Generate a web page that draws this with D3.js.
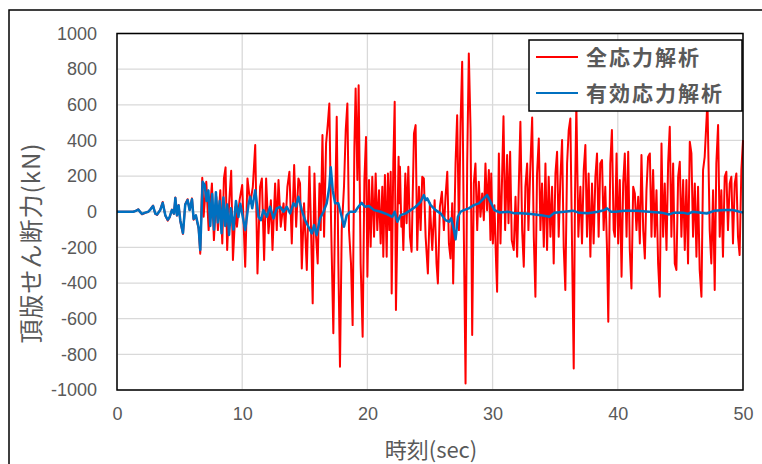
<!DOCTYPE html>
<html>
<head>
<meta charset="utf-8">
<script src="https://cdn.jsdelivr.net/npm/d3@7"></script>
<style>
  body { margin: 0; background: #fff; }
  svg { display: block; }
  .tick text { font-family: "Liberation Sans", Arial, sans-serif; font-size: 18px; fill: #595959; }
  .jp { font-family: "Noto Sans CJK JP", sans-serif; fill: #595959; }
</style>
</head>
<body>
<div id="chart"></div>
<script>

  // time (sec), shear force (kN)
  var totalStress = [
    [0,0],[1.3,0],[1.5,5],[1.7,14],[1.9,-6],[2.0,-14],[2.26,-6],[2.5,0],[2.66,14],[2.88,35],
    [3.06,-12],[3.2,-18],[3.46,12],[3.65,55],[3.86,-22],[4.05,-50],[4.2,-32],[4.39,12],[4.55,-12],
    [4.66,80],[4.79,-22],[4.92,38],[5.06,-55],[5.27,-125],[5.45,42],[5.64,70],[5.8,10],[5.99,75],
    [6.12,-45],[6.3,-22],[6.52,-95],[6.65,-235],
    [6.81,191],[6.92,-28],[7.13,168],[7.32,-103],[7.58,159],[7.74,-159],[7.93,84],[8.06,-103],
    [8.25,121],[8.41,-178],[8.54,187],[8.67,249],[8.8,-215],[8.95,40],[9.12,230],[9.26,-271],
    [9.47,28],[9.58,-84],[9.79,65],[10.0,150],
    [10.24,-308],[10.42,187],[10.64,47],[10.85,140],[11.04,374],[11.22,-346],[11.43,140],[11.57,187],
    [11.75,-271],[11.91,187],[12.1,-121],[12.29,65],[12.42,-215],[12.63,159],[12.76,-103],[12.9,178],
    [13.08,-84],[13.3,47],[13.43,-103],[13.61,140],[13.77,224],[13.96,-178],[14.15,262],[14.31,-84],
    [14.49,187],[14.62,159],[14.76,-318],[14.94,47],[15.16,-327],[15.37,252],[15.5,-103],[15.63,-514],
    [15.77,215],[15.9,-140],[16.03,-290],[16.17,159],[16.27,-103],[16.41,430],[16.54,-140],[16.7,383],
    [16.83,486],[16.96,607],[17.1,-65],[17.28,-682],[17.42,9],[17.55,533],[17.68,-290],[17.81,-869],
    [17.95,-103],[18.13,140],[18.27,458],[18.4,607],[18.53,-103],[18.69,-290],[18.82,-636],[18.96,364],
    [19.06,692],[19.2,178],[19.3,710],[19.46,-290],[19.62,-701],[19.76,178],[19.89,420],
    [20.0,-364],[20.13,178],[20.26,-196],[20.39,196],[20.53,-140],[20.66,215],[20.79,-103],[20.93,121],
    [21.06,-178],[21.19,140],[21.27,-252],[21.4,206],[21.54,-252],[21.64,215],[21.75,-103],[21.86,224],
    [21.94,-458],[22.07,271],[22.18,617],[22.28,-551],[22.39,-103],[22.49,308],[22.55,47],[22.6,252],
    [22.71,-84],[22.79,-28],[22.87,-215],[23.03,215],[23.13,-65],[23.27,252],[23.4,-140],[23.53,-224],
    [23.72,439],[23.85,486],[23.98,-215],[24.12,140],[24.25,-103],[24.38,196],[24.51,187],[24.65,-140],
    [24.83,-346],[24.99,47],[25.18,-215],[25.37,65],[25.52,-290],[25.63,-402],[25.79,28],[25.95,112],
    [26.11,-103],[26.24,84],[26.38,224],[26.51,-178],[26.64,-262],[26.77,47],[26.85,-402],[27.04,271],
    [27.17,542],[27.31,-103],[27.44,495],[27.57,841],[27.7,-103],[27.84,-963],[27.97,271],[28.1,888],
    [28.24,458],[28.37,-692],[28.5,159],[28.63,271],[28.77,-103],[28.9,168],[29.03,-28],[29.17,103],
    [29.3,-47],[29.43,271],[29.56,9],[29.7,234],[29.83,-159],
    [29.89,215],[30.02,-178],[30.15,37],[30.28,-290],[30.36,-449],[30.5,327],[30.63,-178],[30.74,140],
    [30.87,536],[31.0,-103],[31.16,318],[31.27,-65],[31.4,336],[31.53,-159],[31.69,-215],[31.83,84],
    [31.96,-252],[32.09,140],[32.22,505],[32.36,-103],[32.49,-308],[32.62,140],[32.76,271],[32.86,-103],
    [33.0,224],[33.16,529],[33.29,-140],[33.42,-477],[33.55,215],[33.69,411],[33.82,-103],[33.95,159],
    [34.09,-196],[34.22,271],[34.35,-215],[34.48,196],[34.62,-140],[34.75,140],[34.88,-290],[35.02,215],
    [35.15,336],[35.28,-140],[35.41,178],[35.55,402],[35.68,-196],[35.81,-439],[35.95,271],[36.08,458],
    [36.21,523],[36.35,-215],[36.48,-879],[36.58,84],[36.69,600],[36.85,-140],[37.01,140],[37.14,-178],
    [37.28,234],[37.41,374],[37.54,-140],[37.67,215],[37.81,-252],[37.94,159],[38.07,-178],[38.21,196],
    [38.34,327],[38.47,-140],[38.6,271],[38.74,290],[38.87,-103],[39.0,140],[39.14,-215],[39.24,-617],
    [39.4,271],[39.53,458],[39.67,-103],
    [39.77,-140],[39.9,327],[40.03,-178],[40.16,178],[40.3,-364],[40.43,159],[40.56,327],[40.7,-140],
    [40.83,336],[40.96,-215],[41.09,-430],[41.23,140],[41.36,103],[41.49,-103],[41.63,84],[41.76,-178],
    [41.89,318],[42.03,-103],[42.16,-262],[42.29,121],[42.42,308],[42.56,327],[42.69,-140],[42.82,234],
    [42.96,-140],[43.09,121],[43.22,-290],[43.35,-477],[43.49,383],[43.62,-140],[43.75,159],[43.89,-215],
    [44.02,271],[44.15,477],[44.28,-140],[44.42,271],[44.55,-290],[44.68,-327],[44.82,196],[44.95,280],
    [45.08,-140],[45.22,178],[45.35,-215],[45.48,178],[45.61,-290],[45.75,393],[45.88,327],[46.01,-140],
    [46.15,159],[46.28,-252],[46.41,140],[46.54,-327],[46.68,-477],[46.81,234],[46.94,308],[47.16,620],
    [47.34,-103],[47.47,-290],[47.61,121],[47.74,-439],[47.87,271],[48.01,486],[48.14,-140],[48.27,121],
    [48.4,-252],[48.54,196],[48.67,224],[48.8,-103],[48.94,159],[49.07,196],[49.2,-178],[49.34,159],
    [49.47,215],[49.6,-140],[49.73,-243],[49.87,234],[50.0,402]
  ];

  var effectiveStress = [
    [0,0],[1.3,0],[1.5,5],[1.7,12],[1.9,-5],[2.0,-12],[2.26,-5],[2.5,0],[2.66,12],[2.88,32],
    [3.06,-10],[3.2,-15],[3.46,10],[3.65,50],[3.86,-20],[4.05,-45],[4.2,-30],[4.39,10],[4.55,-10],
    [4.66,77],[4.79,-20],[4.92,35],[5.06,-50],[5.27,-120],[5.45,40],[5.64,65],[5.8,10],[5.99,70],
    [6.12,-40],[6.3,-20],[6.52,-90],[6.65,-215],[6.84,168],
    [7.0,150],[7.15,60],[7.3,120],[7.45,-80],[7.6,100],[7.75,-100],[7.9,110],[8.05,-60],[8.2,60],
    [8.35,-120],[8.5,80],[8.65,-80],[8.8,40],[8.95,-130],[9.1,20],[9.3,-100],[9.5,60],[9.7,-30],
    [9.85,45],[10.24,-103],[10.5,40],[10.64,84],[10.8,20],[11.04,121],[11.3,-28],[11.49,-47],
    [11.7,9],[11.97,-28],[12.23,28],[12.5,-37],[12.76,19],[13.03,28],[13.3,0],[13.56,28],[13.83,-9],
    [14.09,47],[14.3,30],[14.49,84],[14.76,9],[15.02,-47],[15.29,-84],[15.56,-121],[15.74,-75],
    [15.95,-131],[16.22,-37],[16.49,0],[16.75,47],[16.96,140],[17.07,250],[17.23,121],[17.42,47],
    [17.68,47],[17.95,-28],[18.13,-84],[18.35,-19],[18.61,0],[19.01,0],[19.28,28],[19.54,50],
    [19.81,28],[20.13,32],[20.53,9],[21.06,0],[21.59,-15],[21.99,-28],[22.18,0],[22.39,-56],
    [22.65,-19],[23.05,-9],[23.45,9],[23.85,28],[24.25,56],[24.51,93],[24.65,65],[24.78,75],
    [25.05,37],[25.45,9],[25.84,-9],[26.24,-47],[26.51,-56],[26.69,-37],[26.91,-103],[27.04,-155],
    [27.23,-28],[27.44,0],[27.7,9],[28.1,19],[28.5,37],[28.9,47],[29.3,75],[29.56,93],[29.89,47],
    [30.15,9],[30.55,-4],[31.22,0],[31.75,-9],[32.28,-9],[33.08,-13],[33.87,-19],[34.54,-28],
    [34.94,-6],[35.73,0],[36.4,6],[36.93,-6],[37.6,-9],[38.39,0],[38.92,9],[39.14,19],[39.46,0],
    [39.83,0],[40.5,5],[41.5,5],[42.5,0],[43.5,-5],[44.1,-15],[44.5,-5],[45.2,-5],[45.6,-12],
    [46.0,0],[47.1,-10],[47.7,5],[48.5,10],[49.2,10],[50.0,-5]
  ];

  var seriesNames = ["全応力解析", "有効応力解析"];
  var seriesColors = ["#ff0000", "#0070c0"];
  var xTicks = [0, 10, 20, 30, 40, 50];
  var yTicks = [-1000, -800, -600, -400, -200, 0, 200, 400, 600, 800, 1000];

  var W = 762, H = 464;
  var margin = {top: 33.5, right: 19, bottom: 74, left: 117},
      width = W - margin.left - margin.right,
      height = H - margin.top - margin.bottom;

  var svg = d3.select("#chart").append("svg")
      .attr("width", W)
      .attr("height", H);

  // outer chart frame
  svg.append("rect")
      .attr("x", 9).attr("y", 10)
      .attr("width", 800).attr("height", 500)
      .attr("fill", "none")
      .attr("stroke", "#000")
      .attr("stroke-width", 1.5);

  var g = svg.append("g")
      .attr("transform", "translate(" + margin.left + "," + margin.top + ")");

  var x = d3.scaleLinear().domain([0, 50]).range([0, width]);
  var y = d3.scaleLinear().domain([-1000, 1000]).range([height, 0]);

  // grid
  g.append("g").selectAll("line")
      .data(yTicks)
    .enter().append("line")
      .attr("x1", 0).attr("x2", width)
      .attr("y1", d => y(d)).attr("y2", d => y(d))
      .attr("stroke", "#d9d9d9").attr("stroke-width", 1.3);

  g.append("g").selectAll("line")
      .data(xTicks)
    .enter().append("line")
      .attr("y1", 0).attr("y2", height)
      .attr("x1", d => x(d)).attr("x2", d => x(d))
      .attr("stroke", "#d9d9d9").attr("stroke-width", 1.3);

  // axes (labels only)
  var yAxis = g.append("g")
      .call(d3.axisLeft(y).tickValues(yTicks).tickFormat(d => String(d))
        .tickSize(0).tickPadding(20));
  var xAxis = g.append("g")
      .attr("transform", "translate(0," + height + ")")
      .call(d3.axisBottom(x).tickValues(xTicks).tickFormat(d => String(d))
        .tickSize(0).tickPadding(17));
  yAxis.select(".domain").remove();
  xAxis.select(".domain").remove();

  var line = d3.line()
      .x(d => x(d[0]))
      .y(d => y(d[1]));

  g.append("path")
      .datum(totalStress)
      .attr("fill", "none")
      .attr("stroke", seriesColors[0])
      .attr("stroke-width", 2)
      .attr("stroke-linejoin", "round")
      .attr("d", line);

  g.append("path")
      .datum(effectiveStress)
      .attr("fill", "none")
      .attr("stroke", seriesColors[1])
      .attr("stroke-width", 2.5)
      .attr("stroke-linejoin", "round")
      .attr("d", line);

  // plot frame
  g.append("rect")
      .attr("width", width).attr("height", height)
      .attr("fill", "none")
      .attr("stroke", "#000")
      .attr("stroke-width", 1.5);

  // axis titles
  svg.append("text")
      .attr("class", "jp")
      .attr("x", 431).attr("y", 458)
      .attr("text-anchor", "middle")
      .attr("font-size", 22)
      .text("時刻(sec)");

  svg.append("text")
      .attr("class", "jp")
      .attr("transform", "translate(40,243) rotate(-90)")
      .attr("text-anchor", "middle")
      .attr("font-size", 24)
      .attr("letter-spacing", 1)
      .text("頂版せん断力(kN)");

  // legend
  var lg = svg.append("g").attr("transform", "translate(529,40)");
  lg.append("rect")
      .attr("width", 213).attr("height", 71)
      .attr("fill", "#fff")
      .attr("stroke", "#000")
      .attr("stroke-width", 1.5);

  var item = lg.selectAll(".item")
      .data(seriesNames)
    .enter().append("g")
      .attr("transform", (d, i) => "translate(0," + (17 + i * 36) + ")");
  item.append("line")
      .attr("x1", 7).attr("x2", 49)
      .attr("stroke", (d, i) => seriesColors[i])
      .attr("stroke-width", 2);
  item.append("text")
      .attr("class", "jp")
      .attr("x", 57).attr("y", 8)
      .attr("font-size", 21)
      .attr("font-weight", "bold")
      .attr("letter-spacing", 2)
      .text(d => d);

</script>
</body>
</html>
